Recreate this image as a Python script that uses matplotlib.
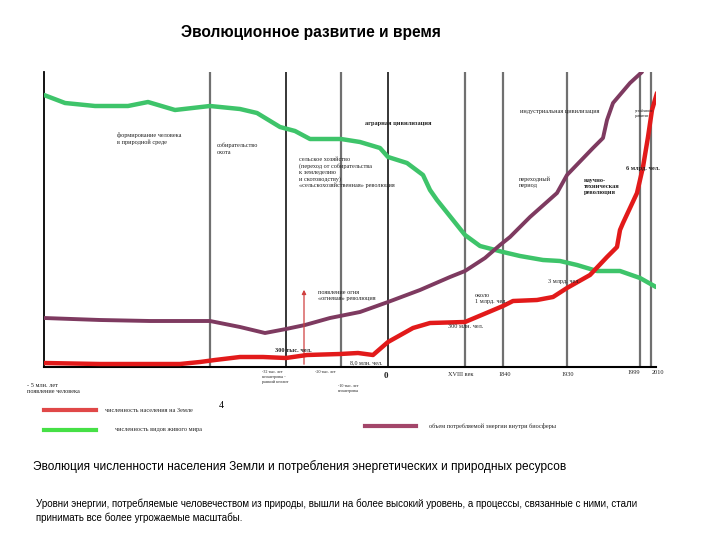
import matplotlib
matplotlib.use('Agg')
import matplotlib.pyplot as plt
from matplotlib.lines import Line2D

W, H = 720, 540

# Кривые (x - положение на шкале времени, y - уровень над осью)
green_x = [0, 21, 51, 84, 104, 131, 166, 196, 213, 236, 251, 266, 297, 316, 336, 344, 363, 379, 386,
           393, 409, 421, 436, 459, 476, 499, 516, 533, 553, 576, 596, 612]
green_y = [272, 264, 261, 261, 265, 257, 261, 258, 254, 240, 236, 228, 228, 225, 219, 210, 204, 192, 177,
           167, 147, 132, 121, 115, 111, 107, 106, 102, 96, 96, 89, 80]

purple_x = [0, 56, 106, 166, 196, 221, 242, 261, 286, 316, 344, 376, 406, 421, 441, 456, 466, 486, 513,
            523, 549, 559, 563, 569, 586, 598]
purple_y = [49, 47, 46, 46, 40, 34, 38, 42, 49, 55, 65, 77, 90, 96, 109, 122, 130, 150, 174,
            192, 219, 229, 247, 264, 284, 295]

red_x = [0, 56, 136, 156, 171, 196, 219, 242, 263, 296, 314, 329, 344, 369, 386, 421, 459, 469, 493,
         509, 523, 546, 563, 573, 576, 579, 593, 599, 604, 608, 613]
red_y = [4, 3, 3, 5, 7, 10, 10, 9, 12, 13, 14, 12, 25, 39, 44, 45, 61, 66, 67,
         70, 79, 92, 110, 120, 137, 144, 174, 200, 230, 257, 274]

# вертикальные границы эпох
black_lines = [242, 344]
grey_lines = [166, 297, 421, 459, 523, 596, 607]

chart_labels = [
    (73, 235, 'формирование человека\nв природной среде', 'normal', 4.5),
    (173, 224, 'собирательство\nохота', 'normal', 4.5),
    (255, 210, 'сельское хозяйство\n(переход от собирательства\nк земледелию\nи скотоводству)\n'
               '«сельскохозяйственная» революция', 'normal', 4.5),
    (321, 246, 'аграрная цивилизация', 'bold', 4.5),
    (476, 258, 'индустриальная цивилизация', 'normal', 4.5),
    (475, 190, 'переходный\nпериод', 'normal', 4.5),
    (540, 189, 'научно-\nтехническая\nреволюция', 'bold', 4.5),
    (582, 201, '6 млрд. чел.', 'bold', 4.5),
    (591, 258, 'устойчивое\nразвитие', 'normal', 2.8),
    (274, 77, 'появление огня\n«огневая» революция', 'normal', 4.5),
    (231, 19, '300 тыс. чел.', 'bold', 4.5),
    (306, 7, '8,0 млн. чел.', 'normal', 4.3),
    (404, 43, '300 млн. чел.', 'normal', 4.5),
    (431, 74, 'около\n1 млрд. чел.', 'normal', 4.5),
    (504, 88, '3 млрд. чел.', 'normal', 4.5),
]

# подписи под осью (в пикселях картинки)
under_labels = [
    (384, 376, '0', 'bold', 6.5),
    (448, 374, 'XVIII век', 'normal', 4.5),
    (498, 374, '1840', 'normal', 4.5),
    (561, 374, '1930', 'normal', 4.5),
    (627, 372, '1999', 'normal', 4.5),
    (652, 373, '2010', 'normal', 4.5),
    (315, 372, '-20 тыс. лет', 'normal', 3),
]
under_multi = [
    (262, 370, '-32 тыс. лет\nнеоантропы -\nранний неолит', 3),
    (338, 384, '-10 тыс. лет\nнеоантропы', 3),
    (27, 383, '- 5 млн. лет\nпоявление человека', 4.5),
]

legend_items = [
    (44, 96, 410, '#e04848', 105, 'численность населения на Земле'),
    (44, 96, 430, '#46e046', 115, 'численность видов живого мира'),
    (365, 416, 426, '#a3466a', 429, 'объем потребляемой энергии внутри биосферы'),
]

serif = ['Liberation Serif', 'DejaVu Serif']
sans = ['Liberation Sans', 'DejaVu Sans']


def fx(x):
    return x / W


def fy(y):
    return 1 - y / H


fig = plt.figure(figsize=(7.2, 5.4), dpi=100)
fig.patch.set_facecolor('white')

ax = fig.add_axes([fx(44), fy(367), 612 / W, 295 / H])
ax.set_xlim(0, 612)
ax.set_ylim(0, 295)
ax.set_xticks([])
ax.set_yticks([])
for s in ['top', 'right']:
    ax.spines[s].set_visible(False)
ax.spines['left'].set_linewidth(1.3)
ax.spines['bottom'].set_linewidth(1.5)
ax.patch.set_alpha(0)

for x in black_lines:
    ax.axvline(x, color='black', lw=1.1, zorder=1)
for x in grey_lines:
    ax.axvline(x, color='#707070', lw=1.6, zorder=1)

ax.plot(green_x, green_y, color='#3ec46a', lw=3.2, solid_joinstyle='round', solid_capstyle='round', zorder=3)
ax.plot(purple_x, purple_y, color='#7e3a60', lw=2.8, solid_joinstyle='round', solid_capstyle='round', zorder=3)
ax.plot(red_x, red_y, color='#e21a1a', lw=3.2, solid_joinstyle='round', solid_capstyle='round', zorder=4)

# стрелка огня
ax.annotate('', xy=(260, 80), xytext=(260, 0),
            arrowprops=dict(arrowstyle='-|>', color='#d04040', lw=0.9, mutation_scale=6))

for x, y, t, w, s in chart_labels:
    ax.text(x, y, t, fontsize=s, fontweight=w, family=serif, va='top', ha='left',
            color='#202020', linespacing=1.25, zorder=5)

for x, y, t, w, s in under_labels:
    fig.text(fx(x), fy(y), t, fontsize=s, fontweight=w, family=serif, va='center', ha='left', color='#202020')
for x, y, t, s in under_multi:
    fig.text(fx(x), fy(y), t, fontsize=s, family=serif, va='top', ha='left', color='#202020', linespacing=1.25)

fig.text(fx(219), fy(406), '4', fontsize=7, family=serif, va='center', ha='left')

for x0, x1, y, c, tx, t in legend_items:
    fig.add_artist(Line2D([fx(x0), fx(x1)], [fy(y), fy(y)], transform=fig.transFigure, color=c, lw=3))
    fig.text(fx(tx), fy(y), t, fontsize=4.5, family=serif, va='center', ha='left', color='#202020')

fig.text(fx(311), fy(33), 'Эволюционное развитие и время', fontsize=11.2, fontweight='bold',
         family=sans, ha='center', va='center')
fig.text(fx(33), fy(467), 'Эволюция численности населения Земли и потребления энергетических и природных ресурсов',
         fontsize=8.6, family=sans, ha='left', va='center')
fig.text(fx(36), fy(504), 'Уровни энергии, потребляемые человечеством из природы, вышли на более высокий уровень, '
         'а процессы, связанные с ними, стали', fontsize=7, family=sans, ha='left', va='center')
fig.text(fx(36), fy(518), 'принимать все более угрожаемые масштабы.', fontsize=7, family=sans, ha='left', va='center')

fig.savefig('out.png', dpi=100)
